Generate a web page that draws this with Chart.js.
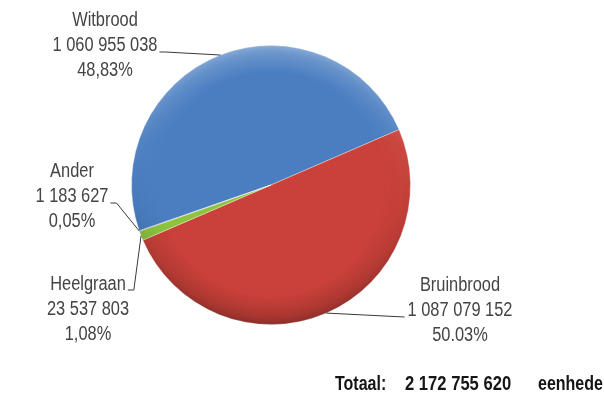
<!DOCTYPE html>
<html>
<head>
<meta charset="utf-8">
<title>Brood eenhede</title>
<script src="https://cdn.jsdelivr.net/npm/chart.js@4/dist/chart.umd.min.js"></script>
<style>
  html, body { margin: 0; padding: 0; background: #ffffff; }
  #wrap { position: relative; width: 604px; height: 394px; }
</style>
</head>
<body>
<div id="wrap"><canvas id="pie" width="604" height="394"></canvas></div>
<script>
// sold units per bread type
const categories = ['Witbrood', 'Bruinbrood', 'Heelgraan', 'Ander'];
const units = [1060955038, 1087079152, 23537803, 1183627];
const shareLabels = ['48,83%', '50.03%', '1,08%', '0,05%'];

const sliceColors = ['#4a7ec1', '#c9413a', '#8cc43e', '#7f63a2'];
const edgeColors = ['#3b68a7', '#a9322d', '#6c9e2c', '#634a85'];

const TEXT = '#444444';
const FONT = '"Liberation Sans", Arial, sans-serif';
const NARROW = 0.82; // labels are set in a condensed face

// where each label block sits and how its leader runs to the slice
const labelLayout = [
    { cx: 105, y: 20, lead: 'left' },
    { cx: 460, y: 285, lead: 'right' },
    { cx: 88, y: 284, lead: 'up' },
    { cx: 72, y: 171, lead: 'left' }
];

function formatUnits(n) {
    return String(n).replace(/\B(?=(\d{3})+(?!\d))/g, ' ');
}

const total = units.reduce((a, b) => a + b, 0);
// white/brown split sits a little above 3 o'clock
const startAngle = 66.6 - 360 * units[0] / total;

function narrowText(ctx, text, x, y, font, sx, align) {
    ctx.save();
    ctx.font = font;
    const w = ctx.measureText(text).width * sx;
    let left = x;
    if (align === 'center') left = x - w / 2;
    if (align === 'right') left = x - w;
    ctx.translate(left, y);
    ctx.scale(sx, 1);
    ctx.textAlign = 'left';
    ctx.fillText(text, 0, 0);
    ctx.restore();
    return { left: left, right: left + w };
}

function sliceFill(context) {
    const chart = context.chart;
    const arc = chart.getDatasetMeta(0).data[context.dataIndex];
    if (!arc || !arc.outerRadius) return sliceColors[context.dataIndex];
    const g = chart.ctx.createRadialGradient(arc.x, arc.y - arc.outerRadius * 0.2, 0,
        arc.x, arc.y, arc.outerRadius);
    g.addColorStop(0, sliceColors[context.dataIndex]);
    g.addColorStop(0.85, sliceColors[context.dataIndex]);
    g.addColorStop(1, edgeColors[context.dataIndex]);
    return g;
}

// soft bevel round the rim: light on top, darker at the bottom
const rimShade = {
    id: 'rimShade',
    afterDatasetsDraw(chart) {
        const arc = chart.getDatasetMeta(0).data[0];
        if (!arc) return;
        const { x, y, outerRadius: r } = arc;
        const off = document.createElement('canvas');
        off.width = chart.width;
        off.height = chart.height;
        const o = off.getContext('2d');
        const lin = o.createLinearGradient(0, y - r, 0, y + r);
        lin.addColorStop(0, 'rgba(255,255,255,0.35)');
        lin.addColorStop(0.35, 'rgba(255,255,255,0.05)');
        lin.addColorStop(0.6, 'rgba(0,0,0,0.05)');
        lin.addColorStop(1, 'rgba(0,0,0,0.3)');
        o.fillStyle = lin;
        o.beginPath();
        o.arc(x, y, r, 0, Math.PI * 2);
        o.fill();
        o.globalCompositeOperation = 'destination-in';
        const mask = o.createRadialGradient(x, y, r * 0.8, x, y, r);
        mask.addColorStop(0, 'rgba(0,0,0,0)');
        mask.addColorStop(0.75, 'rgba(0,0,0,0.6)');
        mask.addColorStop(1, 'rgba(0,0,0,1)');
        o.fillStyle = mask;
        o.fillRect(0, 0, off.width, off.height);
        chart.ctx.drawImage(off, 0, 0);
    }
};

const pieLabels = {
    id: 'pieLabels',
    afterDraw(chart) {
        const ctx = chart.ctx;
        const arcs = chart.getDatasetMeta(0).data;
        const font = '20px ' + FONT;
        const lineH = 25;
        ctx.save();
        ctx.fillStyle = TEXT;
        ctx.textBaseline = 'middle';
        ctx.strokeStyle = '#3a3a3a';
        ctx.lineWidth = 1;

        arcs.forEach((arc, i) => {
            const lay = labelLayout[i];
            const lines = [categories[i], formatUnits(units[i]), shareLabels[i]];
            const boxes = lines.map((t, k) => narrowText(ctx, t, lay.cx, lay.y + k * lineH, font, NARROW, 'center'));

            const mid = (arc.startAngle + arc.endAngle) / 2;
            const ax = arc.x + Math.cos(mid) * arc.outerRadius;
            const ay = arc.y + Math.sin(mid) * arc.outerRadius;
            const base = lay.y + lineH + 7;

            ctx.beginPath();
            if (lay.lead === 'left') {
                ctx.moveTo(boxes[1].right + 2, base);
                ctx.lineTo(boxes[1].right + 8, base);
                ctx.lineTo(ax, ay);
            } else if (lay.lead === 'right') {
                ctx.moveTo(boxes[1].left - 3, base);
                ctx.lineTo(ax, ay);
            } else {
                const by = lay.y + 6;
                ctx.moveTo(boxes[0].right + 2, by);
                ctx.lineTo(boxes[0].right + 8, by);
                ctx.lineTo(ax, ay);
            }
            ctx.stroke();
        });

        // grand total underneath
        ctx.fillStyle = '#161616';
        const bold = 'bold 20px ' + FONT;
        narrowText(ctx, 'Totaal:', 335, 384, bold, 0.8, 'left');
        narrowText(ctx, formatUnits(total), 405, 384, bold, 0.83, 'left');
        narrowText(ctx, 'eenhede', 538, 384, bold, 0.8, 'left');
        ctx.restore();
    }
};

new Chart(document.getElementById('pie'), {
    type: 'pie',
    data: {
        labels: categories,
        datasets: [{
            data: units,
            backgroundColor: sliceFill,
            borderColor: 'rgba(255,255,255,0.35)',
            borderWidth: 1,
            hoverOffset: 0
        }]
    },
    options: {
        responsive: false,
        animation: false,
        rotation: startAngle,
        layout: {
            padding: { left: 131, right: 193, top: 45, bottom: 69 }
        },
        plugins: {
            legend: { display: false },
            tooltip: { enabled: false }
        }
    },
    plugins: [rimShade, pieLabels]
});
</script>
</body>
</html>
